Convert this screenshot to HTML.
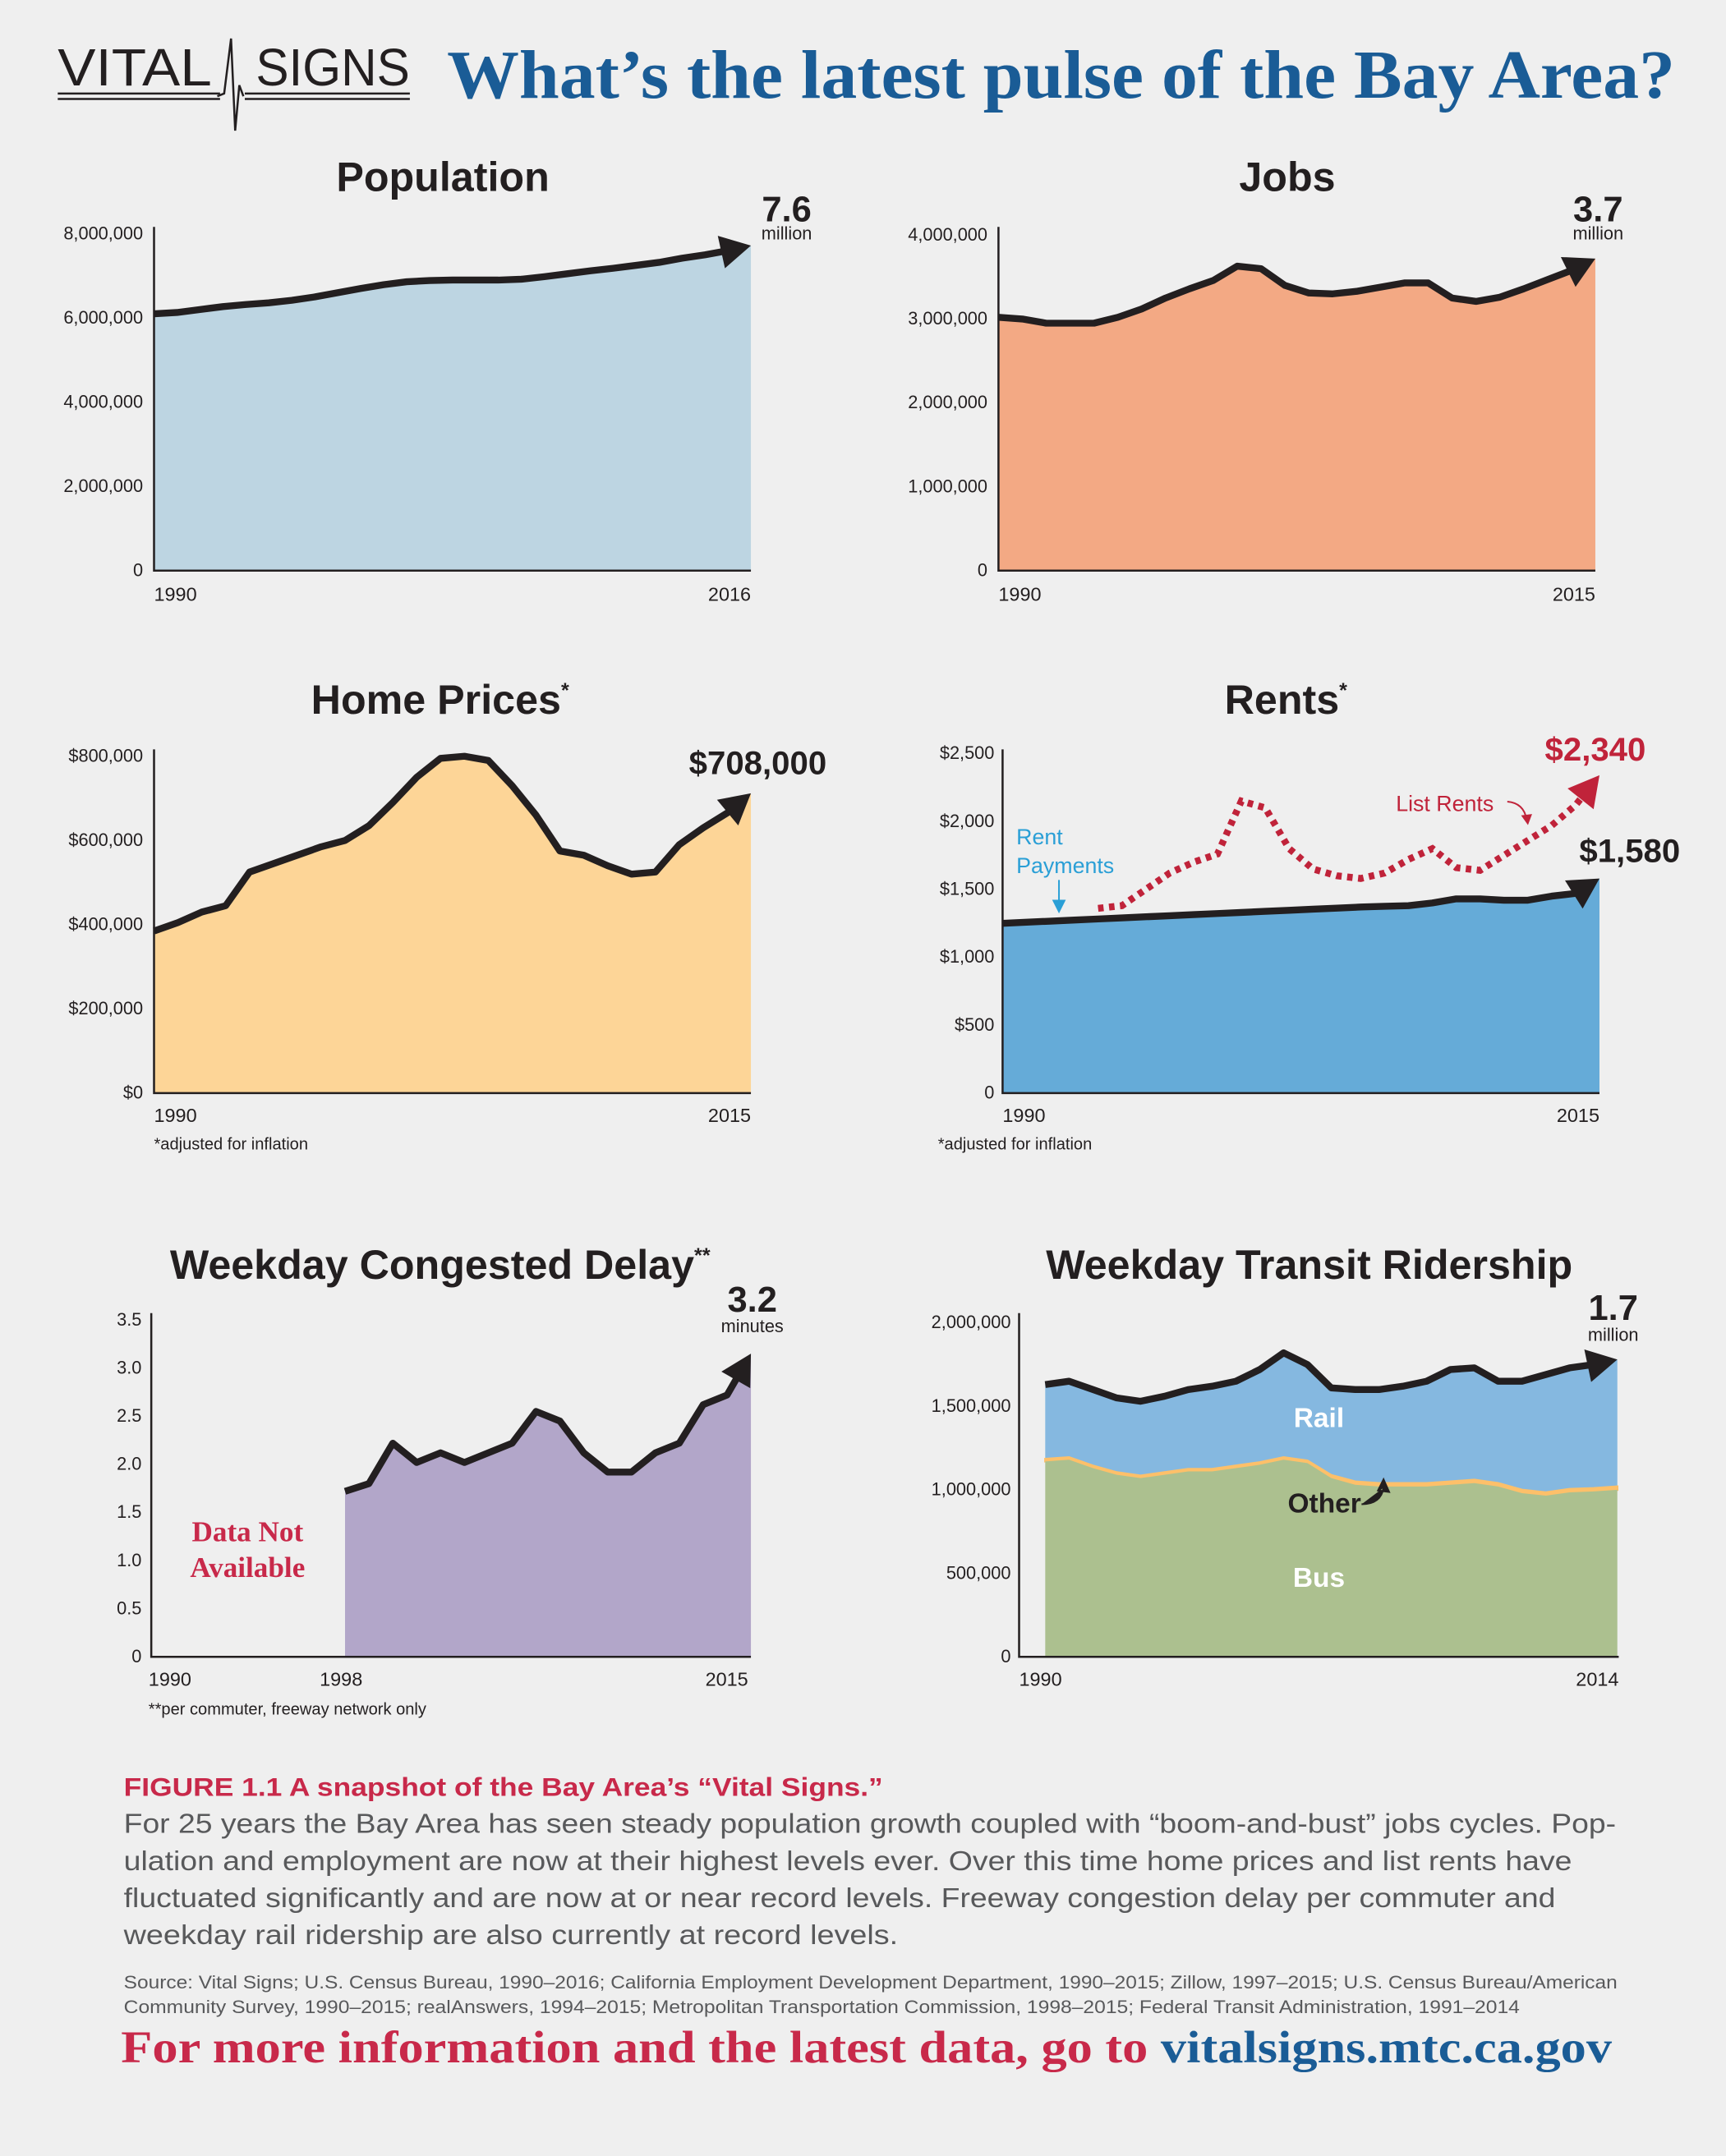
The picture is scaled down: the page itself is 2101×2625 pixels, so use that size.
<!DOCTYPE html>
<html><head><meta charset="utf-8"><style>
html,body{margin:0;padding:0;background:#efefef;}
svg{display:block;}
text{font-family:"Liberation Sans Narrow","Liberation Sans",sans-serif;}
.serif{font-family:"Liberation Serif",serif;font-weight:bold;}
</style></head><body>
<svg id="s" xmlns="http://www.w3.org/2000/svg" width="2101" height="2625" viewBox="0 0 1255 1568">
<rect width="1255" height="1568" fill="#efefef"/>
<g>
<text x="42" y="62" font-size="38" fill="#231f20" textLength="112" lengthAdjust="spacingAndGlyphs">VITAL</text>
<text x="186" y="62" font-size="38" fill="#231f20" textLength="112" lengthAdjust="spacingAndGlyphs">SIGNS</text>
<path d="M42 68H160M42 72H160M178 68H298M178 72H298" stroke="#231f20" stroke-width="1.5"/>
<path d="M158 70L163 68L168 28L171 95L174 62L177 70" fill="none" stroke="#231f20" stroke-width="1.5"/>
</g>
<text class="serif" x="325" y="71" font-size="50" fill="#1a5c96" textLength="893" lengthAdjust="spacingAndGlyphs">What’s the latest pulse of the Bay Area?</text>
<g id="charts"></g>
<text x="90" y="1306" font-size="19" font-weight="bold" fill="#c8294a" textLength="552" lengthAdjust="spacingAndGlyphs">FIGURE 1.1  A snapshot of the Bay Area’s “Vital Signs.”</text>
<g font-size="20" fill="#58595b">
<text x="90" y="1333" textLength="1085" lengthAdjust="spacingAndGlyphs">For 25 years the Bay Area has seen steady population growth coupled with “boom-and-bust” jobs cycles. Pop-</text>
<text x="90" y="1360" textLength="1053" lengthAdjust="spacingAndGlyphs">ulation and employment are now at their highest levels ever. Over this time home prices and list rents have</text>
<text x="90" y="1387" textLength="1041" lengthAdjust="spacingAndGlyphs">fluctuated significantly and are now at or near record levels. Freeway congestion delay per commuter and</text>
<text x="90" y="1414" textLength="563" lengthAdjust="spacingAndGlyphs">weekday rail ridership are also currently at record levels.</text>
</g>
<g font-size="13" fill="#58595b">
<text x="90" y="1446" textLength="1086" lengthAdjust="spacingAndGlyphs">Source: Vital Signs; U.S. Census Bureau, 1990–2016; California Employment Development Department, 1990–2015; Zillow, 1997–2015; U.S. Census Bureau/American</text>
<text x="90" y="1464" textLength="1015" lengthAdjust="spacingAndGlyphs">Community Survey, 1990–2015; realAnswers, 1994–2015; Metropolitan Transportation Commission, 1998–2015; Federal Transit Administration, 1991–2014</text>
</g>
<text class="serif" x="88" y="1500" font-size="33" textLength="1084" lengthAdjust="spacingAndGlyphs"><tspan fill="#c8294a">For more information and the latest data, go to </tspan><tspan fill="#1a5c96">vitalsigns.mtc.ca.gov</tspan></text>
</svg>
<script>
// ---- data ----
const popYears=[1990,2016];
const popValues=[6.1,6.13,6.2,6.27,6.32,6.36,6.42,6.5,6.6,6.7,6.79,6.86,6.89,6.9,6.9,6.9,6.92,6.98,7.05,7.12,7.18,7.25,7.32,7.42,7.5,7.6,7.72];
const popTicks=["0","2,000,000","4,000,000","6,000,000","8,000,000"];
const jobsValues=[3.02,3.0,2.95,2.95,2.95,3.02,3.12,3.25,3.36,3.46,3.63,3.6,3.4,3.31,3.3,3.33,3.38,3.43,3.43,3.25,3.21,3.26,3.36,3.47,3.58,3.72];
const jobsTicks=["0","1,000,000","2,000,000","3,000,000","4,000,000"];
const homeValues=[385,405,430,445,525,545,565,585,600,635,690,750,795,800,790,730,660,575,565,540,520,525,590,630,665,712];
const homeTicks=["$0","$200,000","$400,000","$600,000","$800,000"];
const rentPayValues=[1250,1258,1266,1274,1282,1290,1298,1306,1314,1322,1330,1338,1346,1354,1362,1370,1375,1380,1400,1430,1430,1420,1420,1450,1470,1580];
const listRentYears=[1994,2015];
const listRentValues=[1360,1380,1500,1620,1700,1760,2150,2100,1800,1650,1600,1580,1620,1720,1800,1660,1640,1750,1860,1970,2120,2340];
const rentTicks=["0","$500","$1,000","$1,500","$2,000","$2,500"];
const delayYears=[1998,2015];
const delayValues=[1.72,1.8,2.22,2.02,2.12,2.02,2.12,2.22,2.55,2.45,2.12,1.92,1.92,2.12,2.22,2.62,2.72,3.15];
const delayTicks=["0","0.5","1.0","1.5","2.0","2.5","3.0","3.5"];
const busValues=[1.17,1.18,1.13,1.09,1.07,1.09,1.11,1.11,1.13,1.15,1.18,1.16,1.07,1.03,1.02,1.02,1.02,1.03,1.04,1.02,0.98,0.965,0.985,0.99,1.0];
const otherValues=[0.015,0.015,0.015,0.015,0.015,0.015,0.015,0.015,0.015,0.015,0.015,0.015,0.018,0.02,0.02,0.02,0.02,0.02,0.02,0.02,0.02,0.02,0.02,0.02,0.02];
const totalValues=[1.63,1.65,1.6,1.55,1.53,1.56,1.6,1.62,1.65,1.72,1.82,1.75,1.61,1.6,1.6,1.62,1.65,1.72,1.73,1.65,1.65,1.69,1.73,1.75,1.78];
const transitTicks=["0","500,000","1,000,000","1,500,000","2,000,000"];

const NS="http://www.w3.org/2000/svg";
const root=document.getElementById('charts');
function el(tag,attrs,parent,txt){const e=document.createElementNS(NS,tag);for(const k in attrs)e.setAttribute(k,attrs[k]);if(txt!==undefined)e.textContent=txt;(parent||root).appendChild(e);return e;}
function scale(d0,d1,r0,r1){return v=>r0+(v-d0)*(r1-r0)/(d1-d0);}
function pts(vals,y0,fx,fy){return vals.map((v,i)=>[fx(y0+i),fy(v)]);}
function areaPath(p,base){return 'M'+p[0][0]+','+base+' '+p.map(q=>'L'+q[0]+','+q[1]).join(' ')+' L'+p[p.length-1][0]+','+base+'Z';}
function bandPath(top,bot){return 'M'+top.map(q=>q[0]+','+q[1]).join(' L')+' L'+bot.slice().reverse().map(q=>q[0]+','+q[1]).join(' L')+'Z';}
function linePath(p,trim){const q=p.slice();if(trim){const a=q[q.length-2],b=q[q.length-1];const dx=b[0]-a[0],dy=b[1]-a[1],L=Math.hypot(dx,dy);q[q.length-1]=[b[0]-dx/L*trim,b[1]-dy/L*trim];}return 'M'+q.map(r=>r[0]+','+r[1]).join(' L');}
function arrowHead(g,p,color,size){const a=p[p.length-2],b=p[p.length-1];const ang=Math.atan2(b[1]-a[1],b[0]-a[0]);const s=size||20;
 const c=Math.cos(ang),sn=Math.sin(ang);const bx=b[0]-c*s,by=b[1]-sn*s;
 const h=el('path',{d:`M${b[0]},${b[1]} L${bx-sn*s*0.55},${by+c*s*0.55} L${bx+sn*s*0.55},${by-c*s*0.55}Z`,fill:color},g);
 
 }
function axes(g,ax,x1,base,top,ticks,fy,step,tickX,xlabels,xly){
 const a=el('path',{d:`M${ax},${top} V${base} H${x1}`,stroke:'#231f20','stroke-width':1.5,fill:'none'},g);
 
 
 ticks.forEach((t,i)=>{const tx=el('text',{x:tickX,y:fy(i*step)+4,'font-size':13,'text-anchor':'end',fill:'#231f20'},g,t);
  
  });
 xlabels.forEach(l=>{const tx=el('text',{x:l[0],y:xly,'font-size':14,'text-anchor':l[2]||'start',fill:'#231f20'},g,l[1]);
  
  });}
function title(g,x,y,t,sup){const tx=el('text',{x:x,y:y,'font-size':30,'font-weight':'bold','text-anchor':'middle',fill:'#231f20'},g,t);
 
 
 if(sup){const s=el('tspan',{'font-size':15,dy:-12},tx,sup);}}
function lbl(g,x,y,t,size,color,weight,anchor,name){const tx=el('text',{x:x,y:y,'font-size':size,fill:color,'font-weight':weight||'normal','text-anchor':anchor||'middle'},g,t);
 
 return tx;}
const INK='#231f20';

// Population
(function(){const g=el('g',{});
 const fx=scale(1990,2016,112,546),fy=scale(0,8,415,170);
 const p=pts(popValues,1990,fx,fy);
 const a=el('path',{d:areaPath(p,415),fill:'#bdd5e2'},g);
 const l=el('path',{d:linePath(p,12),stroke:INK,'stroke-width':5,fill:'none','stroke-linejoin':'round'},g);
 arrowHead(g,p,INK,22);
 axes(g,112,546,415,165,popTicks,v=>fy(v),2,104,[[112,'1990'],[546,'2016','end']],437);
 title(g,322,139,'Population');
 lbl(g,572,161,'7.6',26,INK,'bold','middle','population-value');lbl(g,572,174,'million',13,INK,'normal','middle','population-unit');})();

// Jobs
(function(){const g=el('g',{});
 const fx=scale(1990,2015,726,1160),fy=scale(0,4,415,171);
 const p=pts(jobsValues,1990,fx,fy);
 const a=el('path',{d:areaPath(p,415),fill:'#f3a984'},g);
 const l=el('path',{d:linePath(p,12),stroke:INK,'stroke-width':5,fill:'none','stroke-linejoin':'round'},g);
 arrowHead(g,p,INK,22);
 axes(g,726,1160,415,165,jobsTicks,v=>fy(v),1,718,[[726,'1990'],[1160,'2015','end']],437);
 title(g,936,139,'Jobs');
 lbl(g,1162,161,'3.7',26,INK,'bold','middle','jobs-value');lbl(g,1162,174,'million',13,INK,'normal','middle','jobs-unit');})();

// Home prices
(function(){const g=el('g',{});
 const fx=scale(1990,2015,112,546),fy=scale(0,800,795,550);
 const p=pts(homeValues,1990,fx,fy);
 const a=el('path',{d:areaPath(p,795),fill:'#fdd597'},g);
 const l=el('path',{d:linePath(p,12),stroke:INK,'stroke-width':5,fill:'none','stroke-linejoin':'round'},g);
 arrowHead(g,p,INK,22);
 axes(g,112,546,795,545,homeTicks,v=>fy(v),200,104,[[112,'1990'],[546,'2015','end']],816);
 title(g,320,519,'Home Prices','*');
 lbl(g,551,563,'$708,000',24,INK,'bold','middle','home-price-value');
 lbl(g,112,836,'*adjusted for inflation',12,INK,'normal','start','footnote');})();

// Rents
(function(){const g=el('g',{});
 const fx=scale(1990,2015,729,1163),fy=scale(0,2500,795,548);
 const p=pts(rentPayValues,1990,fx,fy);
 const a=el('path',{d:areaPath(p,795),fill:'#65abd8'},g);
 const l=el('path',{d:linePath(p,12),stroke:INK,'stroke-width':5,fill:'none','stroke-linejoin':'round'},g);
 arrowHead(g,p,INK,22);
 const q=pts(listRentValues,1994,fx,fy);
 const d=el('path',{d:linePath(q,14),stroke:'#c0233a','stroke-width':5,fill:'none','stroke-dasharray':'4 4'},g);
 arrowHead(g,q,'#c0233a',22);
 axes(g,729,1163,795,545,rentTicks,v=>fy(v),500,723,[[729,'1990'],[1163,'2015','end']],816);
 title(g,935,519,'Rents','*');
 lbl(g,1160,553,'$2,340',24,'#c0233a','bold','middle','list-rent-value');
 lbl(g,1185,627,'$1,580',24,INK,'bold','middle','rent-payment-value');
 lbl(g,739,614,'Rent',16,'#2a9fd6','normal','start','rent-payments-label');
 lbl(g,739,635,'Payments',16,'#2a9fd6','normal','start','rent-payments-label');
 el('path',{d:'M770,640V660M766,655L770,663L774,655Z',stroke:'#2a9fd6','stroke-width':1.2,fill:'#2a9fd6'},g);
 lbl(g,1015,590,'List Rents',16,'#c0233a','normal','start','list-rents-label');
 el('path',{d:'M1096,583Q1108,584 1110,596',stroke:'#c0233a','stroke-width':1.2,fill:'none'},g);
 el('path',{d:'M1106,593L1111,600L1114,592Z',fill:'#c0233a'},g);
 lbl(g,682,836,'*adjusted for inflation',12,INK,'normal','start','footnote');})();

// Delay
(function(){const g=el('g',{});
 const fx=scale(1990,2015,112,546),fy=scale(0,3.5,1205,960);
 const p=pts(delayValues,1998,fx,fy);
 const a=el('path',{d:areaPath(p,1205),fill:'#b2a6c9'},g);
 const l=el('path',{d:linePath(p,12),stroke:INK,'stroke-width':5,fill:'none','stroke-linejoin':'round'},g);
 arrowHead(g,p,INK,22);
 axes(g,110,546,1205,955,delayTicks,v=>fy(v),0.5,103,[[108,'1990'],[248,'1998','middle'],[544,'2015','end']],1226);
 title(g,320,930,'Weekday Congested Delay','**');
 lbl(g,547,954,'3.2',26,INK,'bold','middle','delay-value');lbl(g,547,969,'minutes',13,INK,'normal','middle','delay-unit');
 const t1=el('text',{x:180,y:1121,'font-size':21,fill:'#c8294a','text-anchor':'middle','class':'serif'},g,'Data Not');
 const t2=el('text',{x:180,y:1147,'font-size':21,fill:'#c8294a','text-anchor':'middle','class':'serif'},g,'Available');
 lbl(g,108,1247,'**per commuter, freeway network only',12,INK,'normal','start','footnote');})();

// Transit
(function(){const g=el('g',{});
 const fx=scale(1990,2014,760,1176),fy=scale(0,2,1205,962);
 const tot=pts(totalValues,1990,fx,fy);
 const bus=pts(busValues,1990,fx,fy);
 const oth=pts(busValues.map((b,i)=>b+otherValues[i]),1990,fx,fy);
 const base=pts(busValues.map(()=>0),1990,fx,fy);
 const r=el('path',{d:bandPath(tot,oth),fill:'#85b8e0'},g);
 const o=el('path',{d:bandPath(oth,bus),fill:'#fdc06a',stroke:'#fdc06a','stroke-width':1.5},g);
 const b=el('path',{d:bandPath(bus,base),fill:'#acc08f'},g);
 const l=el('path',{d:linePath(tot,12),stroke:INK,'stroke-width':5,fill:'none','stroke-linejoin':'round'},g);
 arrowHead(g,tot,INK,22);
 axes(g,741,1177,1205,955,transitTicks,v=>fy(v*0.5),1,735,[[741,'1990'],[1177,'2014','end']],1226);
 title(g,952,930,'Weekday Transit Ridership');
 lbl(g,1173,960,'1.7',26,INK,'bold','middle','transit-value');lbl(g,1173,975,'million',13,INK,'normal','middle','transit-unit');
 lbl(g,959,1038,'Rail',20,'#fff','bold','middle','rail-label');
 lbl(g,963,1100,'Other',20,INK,'bold','middle','other-label');
 lbl(g,959,1154,'Bus',20,'#fff','bold','middle','bus-label');
 el('path',{d:'M990,1094Q1004,1094 1006,1082M1002,1084L1006,1076L1010,1085Z',stroke:INK,'stroke-width':1.3,fill:INK},g);})();
</script>
</body></html>
